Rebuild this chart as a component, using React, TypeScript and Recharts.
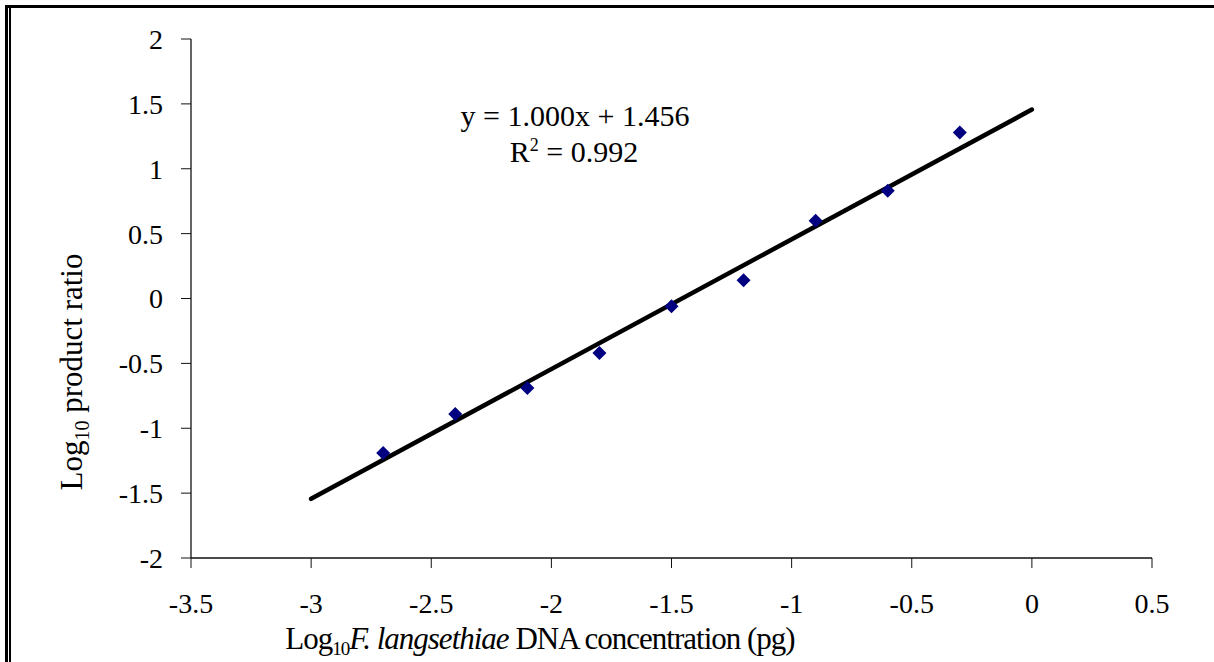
import { ScatterChart, Scatter, XAxis, YAxis, Customized } from 'recharts'

const concentration = [-2.7, -2.4, -2.1, -1.8, -1.5, -1.2, -0.9, -0.6, -0.3]
const productRatio = [-1.19, -0.89, -0.69, -0.42, -0.06, 0.14, 0.6, 0.83, 1.28]

const trendX = [-3, 0]
const trendY = [-1.544, 1.456]

const xTicks = [-3.5, -3, -2.5, -2, -1.5, -1, -0.5, 0, 0.5]
const yTicks = [-2, -1.5, -1, -0.5, 0, 0.5, 1, 1.5, 2]

const equation = 'y = 1.000x + 1.456'
const rSquared = '0.992'

const points = concentration.map((x, i) => ({ x, y: productRatio[i] }))
const trend = trendX.map((x, i) => ({ x, y: trendY[i] }))

const FONT = '"Liberation Serif", "Times New Roman", serif'

interface ShapeProps {
  cx?: number
  cy?: number
}

const Diamond = ({ cx = 0, cy = 0 }: ShapeProps) => {
  const r = 7
  return (
    <polygon
      points={`${cx},${cy - r} ${cx + r},${cy} ${cx},${cy + r} ${cx - r},${cy}`}
      fill='#000080'
    />
  )
}

const NoDot = () => <g />

const YTitle = () => (
  <text
    transform='translate(82, 372) rotate(-90)'
    textAnchor='middle'
    fontFamily={FONT}
    fontSize={31}
    fill='#000'
  >
    Log
    <tspan fontSize={20} dy={7}>10</tspan>
    <tspan dy={-7}> product ratio</tspan>
  </text>
)

const XTitle = () => (
  <text
    x={540}
    y={649}
    textAnchor='middle'
    fontFamily={FONT}
    fontSize={31}
    letterSpacing={-1}
    fill='#000'
  >
    Log
    <tspan fontSize={19} dy={6}>10</tspan>
    <tspan dy={-6} fontStyle='italic'>F. langsethiae</tspan>
    <tspan> DNA concentration (pg)</tspan>
  </text>
)

const EquationText = () => (
  <g fontFamily={FONT} fontSize={30} fill='#000'>
    <text x={575} y={126} textAnchor='middle'>{equation}</text>
    <text x={574} y={162} textAnchor='middle'>
      R<tspan fontSize={18} dy={-11}>2</tspan>
      <tspan dy={11}> = {rSquared}</tspan>
    </text>
  </g>
)

export default function App() {
  return (
    <div style={{ position: 'absolute', left: 0, top: 0, width: 1214, height: 662, background: '#fff' }}>
      <ScatterChart
        width={1214}
        height={662}
        margin={{ top: 39, right: 62, bottom: 0, left: 0 }}
      >
        <XAxis
          type='number'
          dataKey='x'
          domain={[-3.5, 0.5]}
          ticks={xTicks}
          interval={0}
          height={104}
          stroke='#111'
          tickSize={10}
          tickMargin={25}
          tick={{ fill: '#000', fontFamily: FONT, fontSize: 28 }}
          tickLine={{ stroke: '#111' }}
          axisLine={{ stroke: '#111', strokeWidth: 1.3 }}
          allowDataOverflow
          label={XTitle}
        />
        <YAxis
          type='number'
          dataKey='y'
          domain={[-2, 2]}
          ticks={yTicks}
          interval={0}
          width={191}
          stroke='#111'
          tickSize={10}
          tickMargin={18}
          tick={{ fill: '#000', fontFamily: FONT, fontSize: 28 }}
          tickLine={{ stroke: '#111' }}
          axisLine={{ stroke: '#111', strokeWidth: 1.3 }}
          allowDataOverflow
          label={YTitle}
        />
        <Scatter
          data={trend}
          line={{ stroke: '#000', strokeWidth: 4.5, strokeLinecap: 'round' }}
          shape={NoDot}
          isAnimationActive={false}
        />
        <Scatter
          data={points}
          shape={Diamond}
          isAnimationActive={false}
        />
        <Customized component={EquationText} />
      </ScatterChart>
      <div style={{ position: 'absolute', left: 5, top: 5, width: 1209, height: 3, background: '#000' }} />
      <div style={{ position: 'absolute', left: 5, top: 5, width: 3, height: 657, background: '#000' }} />
      <div style={{ position: 'absolute', left: 9, top: 8, width: 2, height: 654, background: '#000' }} />
    </div>
  )
}
